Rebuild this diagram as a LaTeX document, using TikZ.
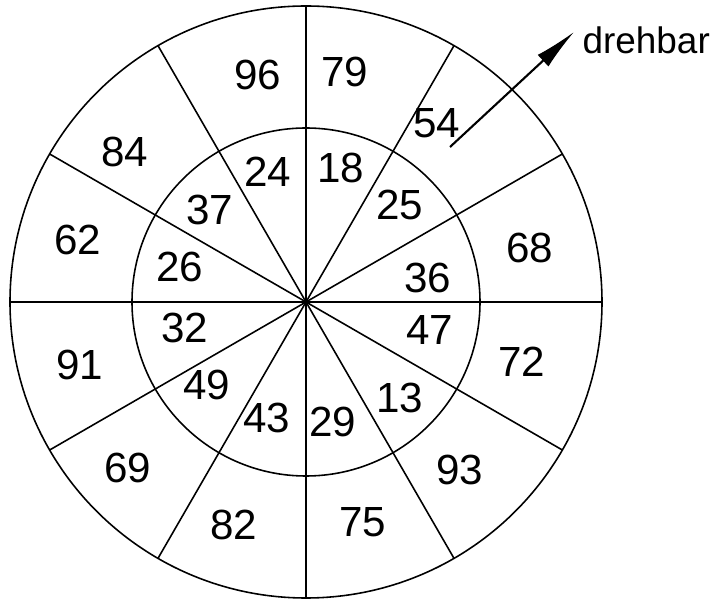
\documentclass[tikz,border=0pt]{standalone}
\usepackage{fontspec}
\setmainfont{Liberation Sans}
\usetikzlibrary{arrows.meta}

\begin{document}
\begin{tikzpicture}[x=0.02cm, y=0.02cm, line width=0.9pt,
    every node/.style={font=\fontsize{24}{28}\selectfont}]
    \useasboundingbox (-306,-299) rectangle (404,302);
    \coordinate (c) at (0,0);

    % the two rings and the twelve spokes
    \draw (c) circle[radius=296];
    \draw (c) circle[radius=174];
    \foreach \a in {0,30,...,330}
        \draw (c) -- (\a:296);

    % outer ring
    \foreach \x/\y/\n in {-48/227/96, 39/230/79, 131/179/54, 224/54/68, 216/-60/72, 154/-168/93,
        57/-220/75, -72/-223/82, -178/-166/69, -226/-63/91, -228/62/62, -181/150/84}
        \node (o\n) at (\x,\y) {\n};

    % inner ring
    \foreach \x/\y/\n in {-38/130/24, 35/134/18, 94/97/25, 122/24/36, 124/-28/47, 94/-96/13,
        27/-120/29, -39/-116/43, -99/-83/49, -121/-26/32, -126/35/26, -96/92/37}
        \node (i\n) at (\x,\y) {\n};

    % arrow
    \coordinate (tail) at (144,155);
    \coordinate (tip) at (268,270);
    \node[anchor=west, font=\fontsize{21}{25}\selectfont] (dreh) at (270,262) {drehbar};
    \draw[line width=1.2pt, -{Latex[length=24pt,width=9pt]}] (tail) -- (tip);
\end{tikzpicture}
\end{document}
